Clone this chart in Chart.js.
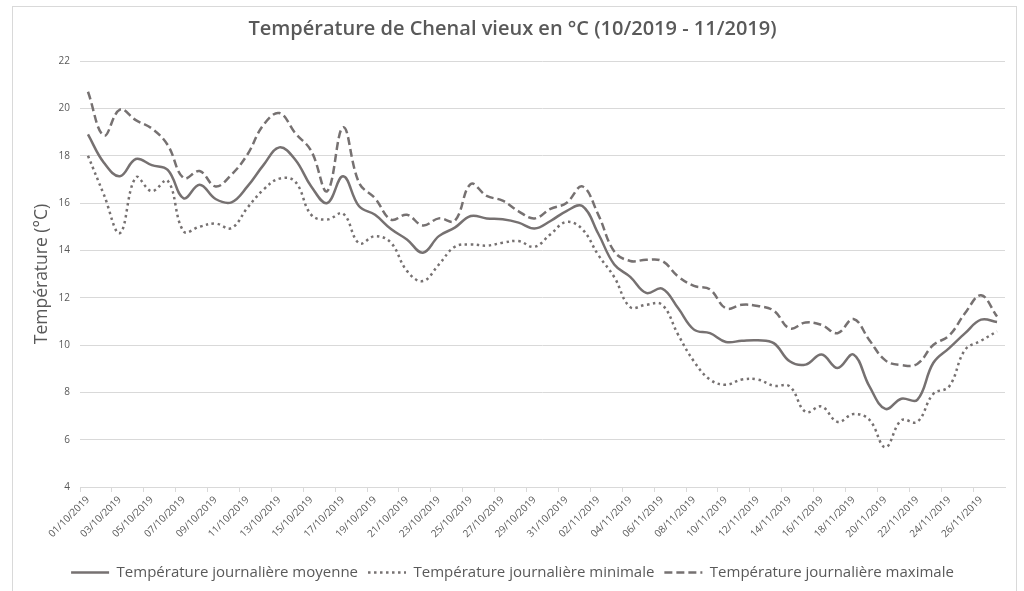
<!DOCTYPE html>
<html>
<head>
<meta charset="utf-8">
<script src="https://cdn.jsdelivr.net/npm/chart.js@4/dist/chart.umd.min.js"></script>
<style>
  html, body { margin:0; padding:0; background:#fff; }
  #wrap { position:relative; width:1024px; height:591px; overflow:hidden; }
  #frame { position:absolute; left:12px; top:6px; width:1005px; height:600px; border:1px solid #d9d9d9; box-sizing:border-box; }
  canvas { position:absolute; left:0; top:0; }
</style>
</head>
<body>
<div id="wrap">
  <div id="frame"></div>
  <canvas id="cv" width="1024" height="591"></canvas>
</div>
<script>
// jours du 01/10/2019 au 27/11/2019
const labels = [
  '01/10/2019','02/10/2019','03/10/2019','04/10/2019','05/10/2019','06/10/2019','07/10/2019','08/10/2019',
  '09/10/2019','10/10/2019','11/10/2019','12/10/2019','13/10/2019','14/10/2019','15/10/2019','16/10/2019',
  '17/10/2019','18/10/2019','19/10/2019','20/10/2019','21/10/2019','22/10/2019','23/10/2019','24/10/2019',
  '25/10/2019','26/10/2019','27/10/2019','28/10/2019','29/10/2019','30/10/2019','31/10/2019','01/11/2019',
  '02/11/2019','03/11/2019','04/11/2019','05/11/2019','06/11/2019','07/11/2019','08/11/2019','09/11/2019',
  '10/11/2019','11/11/2019','12/11/2019','13/11/2019','14/11/2019','15/11/2019','16/11/2019','17/11/2019',
  '18/11/2019','19/11/2019','20/11/2019','21/11/2019','22/11/2019','23/11/2019','24/11/2019','25/11/2019',
  '26/11/2019','27/11/2019'
];
const tMoy = [18.9,17.7,17.13,17.86,17.6,17.4,16.2,16.77,16.17,16.03,16.7,17.6,18.35,17.83,16.7,16.0,
  17.13,15.86,15.5,14.9,14.46,13.9,14.6,14.96,15.45,15.35,15.31,15.17,14.92,15.24,15.66,15.87,
  14.7,13.4,12.88,12.2,12.38,11.56,10.65,10.5,10.13,10.18,10.2,10.08,9.31,9.17,9.6,9.03,
  9.6,8.25,7.3,7.73,7.68,9.24,9.87,10.5,11.07,10.97];
const tMin = [18.0,16.35,14.73,17.08,16.5,16.94,14.8,15.0,15.13,14.94,15.8,16.56,17.03,16.9,15.5,15.3,
  15.55,14.3,14.6,14.32,13.13,12.7,13.4,14.15,14.25,14.2,14.32,14.39,14.15,14.68,15.2,14.89,
  13.8,12.87,11.6,11.7,11.7,10.44,9.3,8.54,8.32,8.54,8.54,8.28,8.25,7.17,7.4,6.75,
  7.08,6.84,5.68,6.82,6.75,7.93,8.25,9.8,10.18,10.58];
const tMax = [20.7,18.85,19.95,19.5,19.15,18.45,17.05,17.35,16.7,17.2,18.05,19.3,19.8,18.95,18.2,16.5,
  19.2,16.85,16.2,15.3,15.5,15.05,15.35,15.25,16.8,16.3,16.1,15.65,15.35,15.75,16.0,16.7,
  15.5,13.95,13.55,13.6,13.55,12.9,12.5,12.35,11.55,11.7,11.65,11.45,10.7,10.95,10.85,10.5,
  11.1,10.2,9.35,9.15,9.2,10.0,10.4,11.35,12.1,11.2];
const yMin = 4, yMax = 22, yStep = 2;

const grey = '#767171';
const txt = '#595959';
const gridCol = '#d9d9d9';
const FONT = "'Open Sans', 'DejaVu Sans', sans-serif";

new Chart(document.getElementById('cv'), {
  type: 'line',
  data: {
    labels: labels,
    datasets: [
      { label:'Température journalière moyenne', data:tMoy, borderColor:grey, borderWidth:2.5, pointRadius:0, tension:0.4 },
      { label:'Température journalière minimale', data:tMin, borderColor:grey, borderWidth:2.5, borderDash:[2.5,3.5], pointRadius:0, tension:0.4 },
      { label:'Température journalière maximale', data:tMax, borderColor:grey, borderWidth:2.5, borderDash:[8,4], pointRadius:0, tension:0.4 }
    ]
  },
  options: {
    responsive: false,
    animation: false,
    layout: { padding: { left: 20, right: 19, top: 0, bottom: 1 } },
    plugins: {
      title: {
        display: true,
        text: 'Température de Chenal vieux en °C (10/2019 - 11/2019)',
        color: txt,
        font: { family: FONT, size: 20, weight: '600' },
        padding: { top: 17, bottom: 20 }
      },
      legend: {
        position: 'bottom',
        labels: {
          color: txt,
          font: { family: FONT, size: 15 },
          usePointStyle: true,
          pointStyle: 'line',
          pointStyleWidth: 38,
          boxHeight: 15,
          padding: 10,
          generateLabels: chart => {
            const items = Chart.defaults.plugins.legend.labels.generateLabels(chart);
            items.forEach(it => {
              const ds = chart.data.datasets[it.datasetIndex];
              it.lineDash = ds.borderDash || [];
              it.lineWidth = ds.borderWidth;
              it.strokeStyle = ds.borderColor;
            });
            return items;
          }
        }
      },
      tooltip: { enabled: false }
    },
    scales: {
      x: {
        offset: true,
        grid: {
          offset: true,
          drawOnChartArea: false,
          tickLength: 5,
          color: ctx => (ctx.index % 2 === 0 ? gridCol : 'rgba(0,0,0,0)')
        },
        border: { color: gridCol },
        ticks: {
          autoSkip: false,
          maxRotation: 45,
          minRotation: 45,
          color: txt,
          font: { family: FONT, size: 10 },
          padding: 2,
          callback: function(v, i) { return i % 2 === 0 ? this.getLabelForValue(v) : ''; }
        },
        afterFit: s => { s.height = 68; }
      },
      y: {
        min: yMin, max: yMax,
        ticks: { stepSize: yStep, color: txt, font: { family: FONT, size: 10 }, padding: 10 },
        grid: { color: gridCol, drawTicks: false },
        border: { display: false },
        title: { display: true, text: 'Température (°C)', color: txt, font: { family: FONT, size: 17.5 }, padding: { top: 12, bottom: 0 } },
        afterFit: s => { s.width = 60; }
      }
    }
  }
});
</script>
</body>
</html>
